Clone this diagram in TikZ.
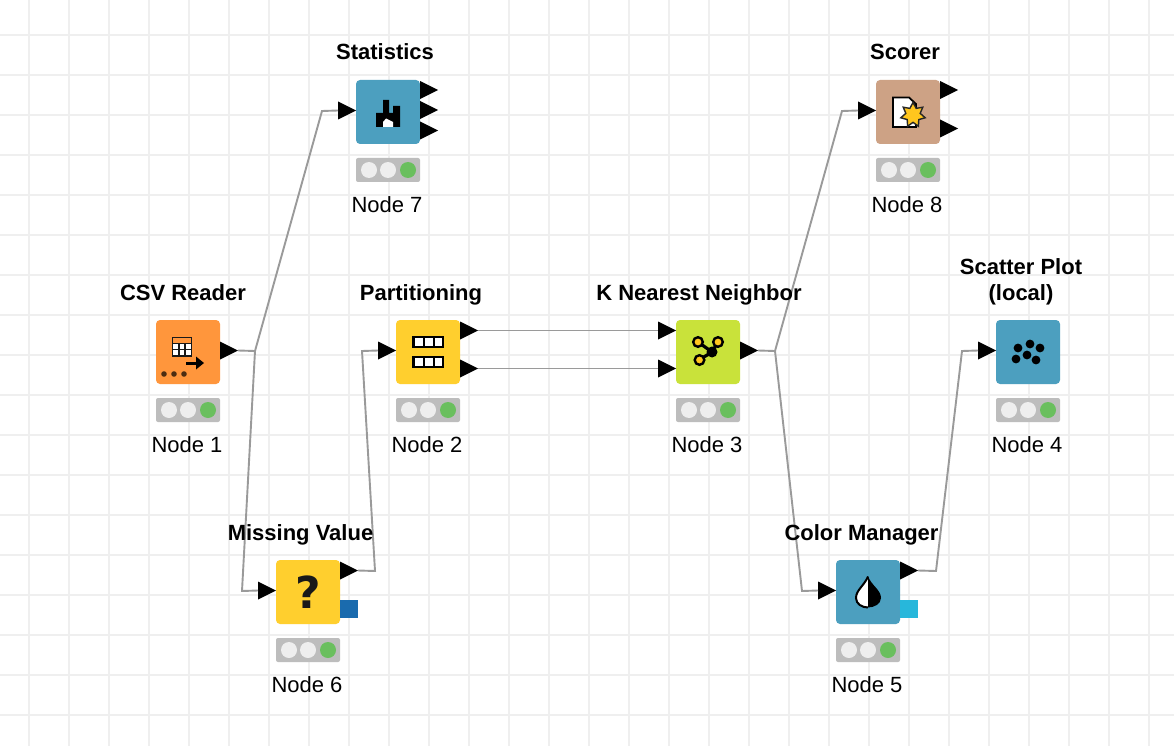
\documentclass[tikz,border=0pt]{standalone}
\usepackage{fontspec}
\setmainfont{Liberation Sans}
\newfontfamily\heavyfont{DejaVu Sans}
\usetikzlibrary{shapes.geometric}
\definecolor{gridc}{HTML}{EFEFEF}
\definecolor{wire}{HTML}{9A9A9A}
\definecolor{corange}{HTML}{FF963C}
\definecolor{cblue}{HTML}{4C9FBF}
\definecolor{ctan}{HTML}{CDA285}
\definecolor{cyellow}{HTML}{FFCF2E}
\definecolor{clime}{HTML}{C9E23A}
\definecolor{lampbar}{HTML}{BDBDBD}
\definecolor{lampoff}{HTML}{EEEEEE}
\definecolor{lampon}{HTML}{6ABF5E}
\definecolor{sqblue}{HTML}{1A6BAE}
\definecolor{sqcyan}{HTML}{27B7DB}
\definecolor{starc}{HTML}{FFC61E}
\tikzset{
  knbox/.style={minimum size=64pt,inner sep=0pt,rounded corners=4pt,fill=#1},
  lampbox/.style={minimum width=64pt,minimum height=24pt,inner sep=0pt,rounded corners=2pt,fill=lampbar},
  wireline/.style={draw=wire,line width=1.9pt},
  titlelabel/.style={font=\fontsize{22}{26}\selectfont\bfseries,anchor=base,inner sep=0pt,align=center},
  idlabel/.style={font=\fontsize{22}{26}\selectfont,anchor=base,inner sep=0pt},
  gridline/.style={draw=gridc,line width=2pt},
  flag/.style={minimum size=18pt,inner sep=0pt,fill=#1}
}
% name, left, top, colour
\newcommand\knimenode[4]{%
  \node[knbox=#4] (#1) at (#2+32,#3+32) {};
  \node[lampbox] (#1lamp) at (#2+32,#3+90) {};
  \fill[lampoff] (#2+13,#3+90) circle (8);
  \fill[lampoff] (#2+32,#3+90) circle (8);
  \fill[lampon] (#2+52,#3+90) circle (8);
}
% name, x of box edge, y
\newcommand\inport[3]{%
  \fill (#2-18,#3-9) -- (#2,#3) -- (#2-18,#3+9) -- cycle;
  \coordinate (#1) at (#2-18,#3);
}
\newcommand\outport[3]{%
  \fill (#2,#3-9) -- (#2+18,#3) -- (#2,#3+9) -- cycle;
  \coordinate (#1) at (#2+18,#3);
}
\begin{document}
\begin{tikzpicture}[x=1pt,y=-1pt]
\useasboundingbox (0,0) rectangle (1174,746);
\fill[white] (0,0) rectangle (1174,746);
\foreach \gx in {29,69,...,1149} \draw[gridline] (\gx,0) -- (\gx,746);
\foreach \gy in {35,75,...,715} \draw[gridline] (0,\gy) -- (1174,\gy);

% boxes
\knimenode{csv}{156}{320}{corange}
\knimenode{stats}{356}{80}{cblue}
\knimenode{scorer}{876}{80}{ctan}
\knimenode{part}{396}{320}{cyellow}
\knimenode{knn}{676}{320}{clime}
\knimenode{scatter}{996}{320}{cblue}
\knimenode{missing}{276}{560}{cyellow}
\knimenode{colman}{836}{560}{cblue}
\node[flag=sqblue] (missflag) at (349,609) {};
\node[flag=sqcyan] (colflag) at (909,609) {};

% ports
\outport{csvout}{220}{350.5}
\inport{statsin}{356}{110.5}
\outport{statsa}{420}{90}
\outport{statsb}{420}{110}
\outport{statsc}{420}{130.5}
\inport{scorerin}{876}{110.5}
\outport{scorera}{940}{90}
\outport{scorerb}{940}{128.5}
\inport{partin}{396}{350.5}
\outport{partouta}{460}{330.5}
\outport{partoutb}{460}{368.5}
\inport{knnina}{676}{330.5}
\inport{knninb}{676}{368.5}
\outport{knnout}{740}{350.5}
\inport{scatterin}{996}{350.5}
\inport{missin}{276}{590.5}
\outport{missout}{340}{570.5}
\inport{colin}{836}{590.5}
\outport{colout}{900}{570.5}

% bend points
\coordinate (csvbend) at (255,351);
\coordinate (statsbend) at (322,111);
\coordinate (missbend) at (242,591);
\coordinate (missoutbend) at (375,571);
\coordinate (partbend) at (362,351);
\coordinate (knnbend) at (775,351);
\coordinate (scorerbend) at (842,111);
\coordinate (colbend) at (802,591);
\coordinate (coloutbend) at (936,571);
\coordinate (scatterbend) at (962,351);

% connectors
\draw[wireline] (csvout) -- (csvbend) -- (statsbend) -- (statsin);
\draw[wireline] (csvbend) -- (missbend) -- (missin);
\draw[wireline] (missout) -- (missoutbend) -- (partbend) -- (partin);
\draw[wireline] (partouta) -- (knnina);
\draw[wireline] (partoutb) -- (knninb);
\draw[wireline] (knnout) -- (knnbend) -- (scorerbend) -- (scorerin);
\draw[wireline] (knnbend) -- (colbend) -- (colin);
\draw[wireline] (colout) -- (coloutbend) -- (scatterbend) -- (scatterin);

% CSV icon
\fill[corange] (173,338) rectangle (191,343);
\fill[white] (173,343) rectangle (191,356);
\draw[black!90,line width=1.9pt] (172.5,337.5) rectangle (191.5,356);
\draw[black!90,line width=1.5pt] (173,343.5) -- (191,343.5) (173,349.5) -- (191,349.5) (179,343.5) -- (179,356) (185,343.5) -- (185,356);
\draw[black,line width=3pt] (186,363) -- (201,363);
\fill[black] (196,356.5) -- (204,363) -- (196,369.5) -- cycle;
\foreach \dx in {164,174,184} \fill[black!70!corange] (\dx,374) circle (2.8);

% Statistics icon
\fill[black] (376,113) -- (383,113) -- (383,100) -- (389,100) -- (389,113) -- (393,113) -- (393,106) -- (400,106) -- (400,127) -- (376,127) -- cycle;
\fill[white] (383,122) -- (386,118.5) -- (393,122) -- (393,127) -- (383,127) -- cycle;

% Scorer icon
\fill[white] (893,97.5) -- (909,97.5) -- (916,104) -- (916,127) -- (893,127) -- cycle;
\draw[black,line width=1.8pt] (893,97.5) -- (909,97.5) -- (916,104) -- (916,127) -- (893,127) -- cycle;
\node[star,star points=7,star point ratio=1.7,minimum size=25pt,inner sep=0pt,fill=starc,draw=black!85,line width=1.4pt] (scorerstar) at (913,115) {};

% Partitioning icon
\foreach \ry in {337,357} {
  \fill[white] (413.5,\ry) rectangle (443,\ry+10);
  \draw[black,line width=2.4pt] (413.5,\ry) rectangle (443,\ry+10);
  \draw[black,line width=2pt] (423.5,\ry) -- (423.5,\ry+10) (433.5,\ry) -- (433.5,\ry+10);
}

% KNN icon
\draw[black,line width=3.2pt] (698,342) -- (712,352) -- (718,342) (712,352) -- (699,360);
\fill[black] (712,352) circle (5.5);
\foreach \kx/\ky in {698/342,718/342,699.5/360} \filldraw[fill=starc,draw=black,line width=2.4pt] (\kx,\ky) circle (4.8);

% Scatter icon
\foreach \sx/\sy in {1018/348,1030/344,1040/348,1027/355,1016/359,1036/360} \fill[black] (\sx,\sy) circle (4.4);

% Missing value icon
\node[font=\fontsize{44}{44}\selectfont\heavyfont\bfseries,inner sep=0pt,text=black!90] (qmark) at (308,592.5) {?};

% Color manager icon
\fill[white] (868,576.5) .. controls (864,586) and (856,590) .. (856,598) .. controls (856,604) and (862,607.5) .. (868,607.5) -- cycle;
\fill[black] (868,576.5) .. controls (872,586) and (881,590) .. (881,598) .. controls (881,604) and (874,607.5) .. (868,607.5) -- cycle;
\draw[black,line width=2pt] (868,576.5) .. controls (864,586) and (856,590) .. (856,598) .. controls (856,604) and (862,607.5) .. (868,607.5);

% labels
\node[titlelabel] (tcsv) at (183,300) {CSV Reader};
\node[titlelabel] (tstats) at (385,60) {Statistics};
\node[titlelabel] (tscorer) at (905,60) {Scorer};
\node[titlelabel] (tpart) at (421,300) {Partitioning};
\node[titlelabel] (tknn) at (699,300) {K Nearest Neighbor};
\node[titlelabel] (tscat) at (1021,274) {Scatter Plot};
\node[titlelabel] (tscatb) at (1021,300) {(local)};
\node[titlelabel] (tmiss) at (300.5,540) {Missing Value};
\node[titlelabel] (tcol) at (861.5,540) {Color Manager};
\node[idlabel] (ncsv) at (187,452) {Node 1};
\node[idlabel] (npart) at (427,452) {Node 2};
\node[idlabel] (nknn) at (707,452) {Node 3};
\node[idlabel] (nscat) at (1027,452) {Node 4};
\node[idlabel] (ncol) at (867,692) {Node 5};
\node[idlabel] (nmiss) at (307,692) {Node 6};
\node[idlabel] (nstats) at (387,212) {Node 7};
\node[idlabel] (nscorer) at (907,212) {Node 8};
\end{tikzpicture}
\end{document}
